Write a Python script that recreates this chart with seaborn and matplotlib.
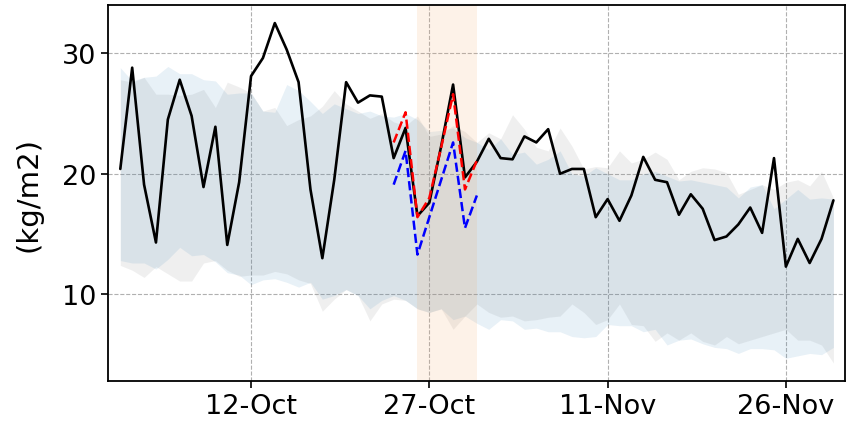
import numpy as np
import pandas as pd
import matplotlib
matplotlib.use("Agg")
import matplotlib.pyplot as plt
import matplotlib.dates as mdates
import seaborn as sns

# daily values, 1-Oct .. 30-Nov
dates = pd.date_range("2020-10-01", "2020-11-30", freq="D")

obs = [20.4, 28.8, 19.1, 14.3, 24.5, 27.8, 24.8, 18.9, 23.9, 14.1,
       19.3, 28.1, 29.6, 32.5, 30.3, 27.6, 18.7, 13.0, 19.5, 27.6,
       25.9, 26.5, 26.4, 21.3, 23.8, 16.5, 17.6, 22.3, 27.4, 19.7,
       21.0, 22.9, 21.3, 21.2, 23.1, 22.6, 23.7, 20.0, 20.4, 20.4,
       16.4, 17.9, 16.1, 18.2, 21.4, 19.5, 19.3, 16.6, 18.3, 17.1,
       14.5, 14.8, 15.8, 17.2, 15.1, 21.3, 12.3, 14.6, 12.6, 14.6, 17.8]

# ensemble ranges (two products)
blue_hi = [28.8, 27.7, 28.0, 28.1, 28.9, 28.3, 28.3, 27.8, 27.7, 26.6,
           26.7, 26.7, 25.2, 25.1, 27.4, 26.9, 26.0, 25.0, 25.8, 25.4,
           25.0, 25.2, 24.8, 24.7, 25.0, 24.5, 23.5, 23.6, 23.8, 23.0,
           22.6, 22.0, 22.9, 21.6, 21.8, 20.8, 21.2, 21.9, 20.0, 19.8,
           20.5, 20.0, 19.5, 19.5, 20.0, 20.2, 19.8, 19.4, 19.5, 19.3,
           19.1, 18.9, 18.0, 18.9, 19.1, 17.1, 17.9, 18.7, 17.9, 18.0, 17.9]
blue_lo = [12.8, 12.6, 12.6, 12.1, 12.9, 13.9, 13.2, 13.3, 12.7, 11.8,
           11.6, 10.8, 11.2, 11.3, 11.0, 10.6, 11.0, 9.6, 9.9, 10.4,
           9.9, 8.8, 9.5, 9.9, 9.5, 8.8, 8.5, 8.8, 7.9, 8.2,
           7.6, 7.1, 7.9, 7.8, 7.1, 7.2, 6.9, 6.9, 6.5, 6.4,
           6.5, 7.5, 7.4, 7.4, 6.9, 7.1, 5.8, 6.2, 6.3, 5.9,
           5.6, 5.5, 5.1, 5.5, 5.5, 5.4, 4.7, 4.9, 5.1, 5.0, 5.6]
grey_hi = [27.8, 27.6, 28.0, 26.6, 26.6, 26.5, 26.6, 27.0, 25.5, 27.6,
           27.2, 26.7, 25.2, 25.5, 24.0, 24.5, 24.8, 25.6, 26.9, 25.8,
           25.2, 24.6, 25.0, 24.3, 24.0, 24.8, 23.1, 23.3, 24.0, 23.5,
           22.6, 23.4, 22.9, 24.9, 23.7, 22.2, 21.9, 23.8, 22.3, 20.4,
           20.6, 20.5, 21.9, 20.9, 21.2, 21.8, 21.2, 19.5, 20.2, 20.5,
           20.4, 20.1, 18.3, 18.7, 19.1, 18.7, 19.3, 19.5, 19.0, 20.2, 18.0]
grey_lo = [12.4, 12.0, 11.4, 12.3, 11.7, 11.1, 11.1, 12.6, 12.8, 12.0,
           11.5, 11.6, 11.6, 11.9, 11.7, 11.2, 10.9, 8.6, 9.6, 10.4,
           9.9, 7.8, 9.2, 9.6, 9.5, 8.8, 8.5, 8.8, 7.1, 8.2,
           9.2, 8.5, 8.1, 8.2, 7.8, 7.9, 8.1, 8.2, 9.2, 8.5,
           7.5, 7.9, 9.2, 7.5, 7.4, 6.1, 6.8, 6.2, 6.8, 6.1,
           5.8, 6.5, 5.9, 6.2, 6.5, 6.8, 7.1, 6.2, 6.2, 5.8, 4.3]

# forecasts inside the event window
fc_dates = pd.date_range("2020-10-24", "2020-10-31", freq="D")
fc_red = [22.6, 25.1, 16.4, 18.0, 22.2, 26.6, 18.7, 21.1]
fc_blue = [19.1, 21.9, 13.3, 16.4, 19.5, 22.6, 15.5, 18.2]

event_start = pd.Timestamp("2020-10-26")
event_end = pd.Timestamp("2020-10-31")

tick_dates = ["2020-10-12", "2020-10-27", "2020-11-11", "2020-11-26"]

df = pd.DataFrame({"date": dates, "obs": obs})
fc = pd.DataFrame({"date": fc_dates, "red": fc_red, "blue": fc_blue})

sns.set_style("ticks")
plt.rcParams["font.family"] = ["DejaVu Sans"]

fig = plt.figure(figsize=(8.47, 4.27), dpi=100)
ax = fig.add_axes([0.128, 0.105, 0.870, 0.881])

ax.fill_between(dates, grey_lo, grey_hi, color="grey", alpha=0.12, lw=0)
ax.fill_between(dates, blue_lo, blue_hi, color="C0", alpha=0.10, lw=0)
ax.axvspan(event_start, event_end, color="sandybrown", alpha=0.14, lw=0)

sns.lineplot(data=df, x="date", y="obs", color="black", lw=1.9, ax=ax)
sns.lineplot(data=fc, x="date", y="red", color="red", lw=1.8,
             linestyle="--", ax=ax)
sns.lineplot(data=fc, x="date", y="blue", color="blue", lw=1.8,
             linestyle="--", ax=ax)

ax.set_xlim(pd.Timestamp("2020-09-30"), pd.Timestamp("2020-12-01"))
ax.set_ylim(2.8, 34)
ax.set_yticks([10, 20, 30])
ax.set_xticks(pd.to_datetime(tick_dates))
ax.xaxis.set_major_formatter(mdates.DateFormatter("%d-%b"))
ax.grid(True, linestyle="--", color="#b0b0b0", lw=0.8)
ax.tick_params(labelsize=19.5, length=5, width=1.2, colors="black")
ax.set_xlabel("")
ax.set_ylabel("(kg/m2)", fontsize=21, color="black", labelpad=14)
for s in ax.spines.values():
    s.set_linewidth(1.3)
    s.set_color("black")

fig.savefig("out.png", dpi=100)
